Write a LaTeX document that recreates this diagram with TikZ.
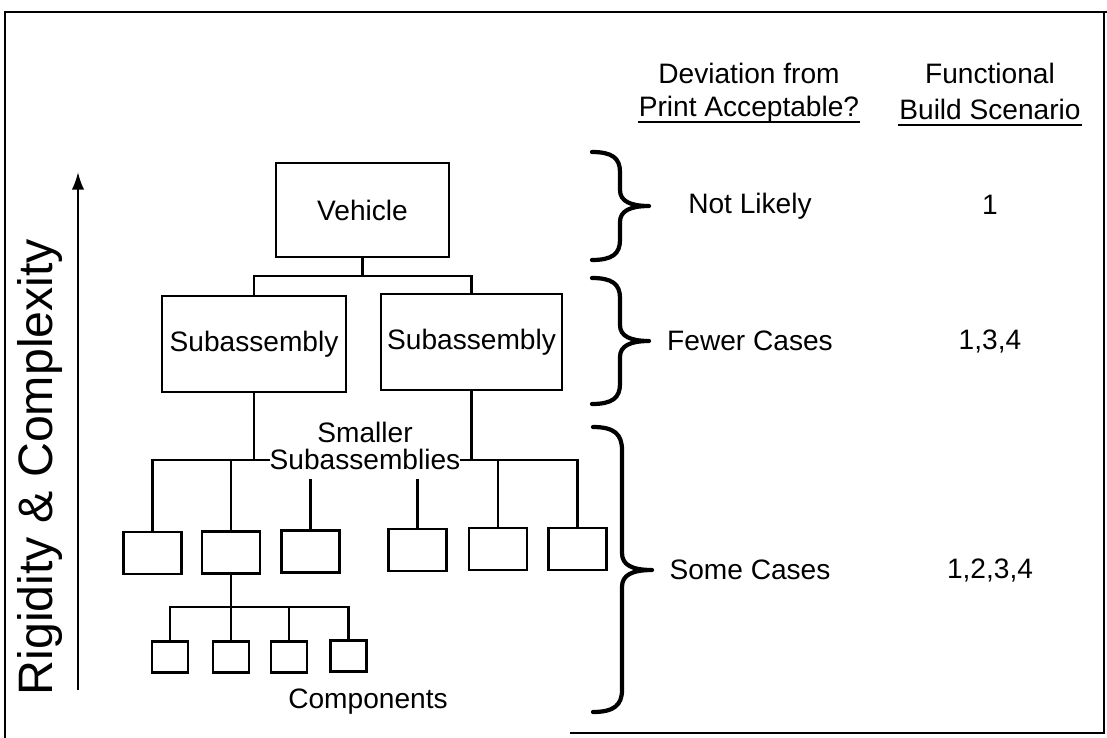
\documentclass[tikz,border=0pt]{standalone}
\usepackage{fontspec}
\setmainfont{Liberation Sans}
\usetikzlibrary{arrows.meta}
\begin{document}
\begin{tikzpicture}[x=0.02cm,y=-0.02cm,
  line width=1.3pt,
  box/.style={draw,line width=1.3pt,inner sep=0pt,font=\fontsize{16}{19}\selectfont},
  midbox/.style={box,minimum width=1.16cm,minimum height=0.84cm},
  smallbox/.style={box,minimum width=0.72cm,minimum height=0.62cm},
  lbl/.style={inner sep=0pt,font=\fontsize{16}{19}\selectfont},
  brace/.style={line width=2.4pt,line cap=round,line join=round},
  frame/.style={line width=1.1pt}]
\useasboundingbox (0,0) rectangle (1107,738);

% frame
\draw[frame] (1107,12) -- (5,12) -- (5,738);
\draw[frame] (1104,12) -- (1104,733) -- (570,733);

% main boxes
\node[box,minimum width=3.46cm,minimum height=1.88cm] (veh) at (362.5,210) {Vehicle};
\node[box,minimum width=3.68cm,minimum height=1.92cm] (subL) at (254,344) {Subassembly};
\node[box,minimum width=3.62cm,minimum height=1.92cm] (subR) at (471.5,342) {Subassembly};

% smaller subassemblies
\node[midbox] (m1) at (152.5,553) {};
\node[midbox] (m2) at (231,552.5) {};
\node[midbox] (m3) at (310.5,551.5) {};
\node[midbox] (m4) at (417.5,550) {};
\node[midbox] (m5) at (498,549) {};
\node[midbox] (m6) at (577.5,549) {};

% components
\node[smallbox] (c1) at (170,657) {};
\node[smallbox] (c2) at (231,657) {};
\node[smallbox] (c3) at (289,657) {};
\node[smallbox] (c4) at (348.5,656) {};

% connectors level 1
\coordinate (barA) at (0,276);
\draw (veh.south) -- (veh.south |- barA);
\draw (subL.north) -- (subL.north |- barA) -- (subR.north |- barA) -- (subR.north);

% connectors level 2
\coordinate (barB) at (0,460);
\draw (m1.north) -- (m1.north |- barB) -- (m6.north |- barB) -- (m6.north);
\draw (m2.north) -- (m2.north |- barB);
\draw (m5.north) -- (m5.north |- barB);
\draw (subL.south) -- (subL.south |- barB);
\draw (subR.south) -- (subR.south |- barB);
\coordinate (s3) at (310.5,479);
\coordinate (s4) at (417.5,479);
\draw (m3.north) -- (s3);
\draw (m4.north) -- (s4);
\node[lbl,fill=white,align=center,font=\fontsize{16}{15}\selectfont] (smaller) at (365,446) {Smaller\\Subassemblies};

% connectors level 3
\coordinate (barC) at (0,607);
\draw (m2.south) -- (m2.south |- barC);
\draw (c1.north) -- (c1.north |- barC) -- (c4.north |- barC) -- (c4.north);
\draw (c2.north) -- (c2.north |- barC);
\draw (c3.north) -- (c3.north |- barC);
\node[lbl] (comp) at (368,702) {Components};

% braces
\draw[brace] (592,152) .. controls (612,152) and (620,158) .. (620,172) -- (620,190)
  .. controls (620,201) and (630,206) .. (649,206)
  .. controls (630,206) and (620,211) .. (620,222) -- (620,240)
  .. controls (620,254) and (612,260) .. (592,260);
\draw[brace] (592,278) .. controls (612,278) and (620,284) .. (620,298) -- (620,325)
  .. controls (620,336) and (630,341) .. (649,341)
  .. controls (630,341) and (620,346) .. (620,357) -- (620,384)
  .. controls (620,398) and (612,404) .. (592,404);
\draw[brace] (593,427) .. controls (614,427) and (622,434) .. (622,450) -- (622,553)
  .. controls (622,565) and (632,570) .. (652,570)
  .. controls (632,570) and (622,575) .. (622,587) -- (622,690)
  .. controls (622,705) and (614,712) .. (593,712);

% headers
\node[lbl] (h1) at (749,73) {Deviation from};
\node[lbl] (h2) at (749,109) {Print Acceptable?};
\draw[line width=1.1pt] ([yshift=-3.5pt]h2.base west) -- ([yshift=-3.5pt]h2.base east);
\node[lbl] (h3) at (990,73) {Functional};
\node[lbl] (h4) at (990,109) {Build Scenario};
\draw[line width=1.1pt] ([yshift=-3.5pt]h4.base west) -- ([yshift=-3.5pt]h4.base east);

% right columns
\node[lbl] (r1) at (750,206) {Not Likely};
\node[lbl] (r2) at (750,341) {Fewer Cases};
\node[lbl] (r3) at (750,570) {Some Cases};
\node[lbl] (n1) at (990,205) {1};
\node[lbl] (n2) at (990,341) {1,3,4};
\node[lbl] (n3) at (990,570) {1,2,3,4};

% axis
\node[rotate=90,inner sep=0pt,font=\fontsize{27.5}{31}\selectfont] (rc) at (40,467) {Rigidity \& Complexity};
\coordinate (ab) at (78,690);
\coordinate (at) at (78,172);
\draw[line width=1.2pt,-{Latex[length=10pt,width=7pt]}] (ab) -- (at);
\end{tikzpicture}
\end{document}
